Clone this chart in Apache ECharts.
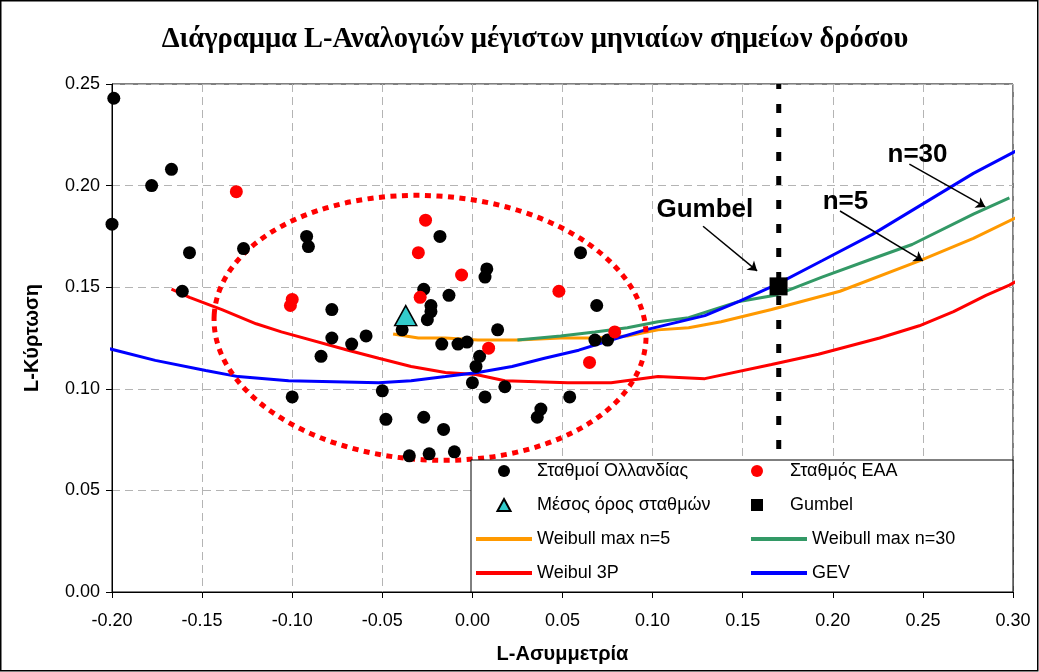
<!DOCTYPE html>
<html><head><meta charset="utf-8">
<script src="https://cdn.jsdelivr.net/npm/echarts@6/dist/echarts.min.js"></script>
<style>html,body{margin:0;padding:0;background:#fff}#c{width:1039px;height:672px}</style>
</head><body><div id="c"></div>
<script>
const titleText = 'Διάγραμμα L-Αναλογιών μέγιστων μηνιαίων σημείων δρόσου';
const xName = 'L-Ασυμμετρία';
const yName = 'L-Κύρτωση';
const xRange = [-0.20, 0.30];
const yRange = [0.00, 0.25];
const tickStep = 0.05;

const netherlandsStations = [
  [-0.199,0.243],[-0.200,0.181],[-0.178,0.200],[-0.167,0.208],[-0.157,0.167],[-0.161,0.148],[-0.127,0.169],
  [-0.100,0.096],[-0.084,0.116],
  [-0.092,0.175],[-0.091,0.170],[-0.078,0.139],[-0.078,0.125],[-0.067,0.122],[-0.059,0.126],
  [-0.018,0.175],[-0.027,0.149],[-0.013,0.146],[-0.023,0.141],[-0.023,0.138],[-0.025,0.134],[-0.039,0.129],
  [-0.017,0.122],[-0.008,0.122],[-0.003,0.123],
  [0.060,0.167],[0.069,0.141],[0.007,0.155],[0.008,0.159],[0.014,0.129],[0.004,0.116],[0.002,0.111],
  [0.000,0.103],[0.018,0.101],[0.007,0.096],
  [0.068,0.124],[0.075,0.124],[0.054,0.096],[0.038,0.090],[0.036,0.086],
  [-0.050,0.099],[-0.048,0.085],[-0.027,0.086],[-0.016,0.080],[-0.035,0.067],[-0.024,0.068],[-0.010,0.069]
];
const hnmsStation = [
  [-0.131,0.197],[-0.100,0.144],[-0.101,0.141],[-0.026,0.183],[-0.030,0.167],[-0.006,0.156],
  [-0.029,0.145],[0.048,0.148],[0.009,0.120],[0.079,0.128],[0.065,0.113]
];
const stationMean = [[-0.037,0.136]];
const gumbelPoint = [[0.1699,0.1504]];
const gumbelLine = [[0.17,0.25],[0.17,0.0]];

const weibullMax5 = [
  [-0.044,0.127],[-0.030,0.125],[-0.015,0.125],[0.003,0.124],[0.025,0.124],[0.049,0.125],[0.068,0.125],
  [0.086,0.126],[0.103,0.129],[0.120,0.130],[0.138,0.133],[0.166,0.139],[0.204,0.148],[0.248,0.163],
  [0.278,0.174],[0.308,0.187]
];
const weibullMax30 = [
  [0.025,0.124],[0.049,0.126],[0.068,0.128],[0.086,0.130],[0.103,0.133],[0.120,0.135],[0.148,0.143],
  [0.168,0.146],[0.194,0.155],[0.222,0.164],[0.244,0.171],[0.278,0.186],[0.298,0.194]
];
const weibull3P = [
  [-0.167,0.149],[-0.157,0.145],[-0.139,0.139],[-0.120,0.132],[-0.106,0.128],[-0.069,0.119],[-0.052,0.115],
  [-0.034,0.111],[-0.015,0.108],[0.002,0.107],[0.018,0.104],[0.053,0.103],[0.077,0.103],[0.103,0.106],
  [0.129,0.105],[0.166,0.112],[0.192,0.117],[0.226,0.125],[0.248,0.131],[0.267,0.138],[0.285,0.146],
  [0.298,0.151],[0.308,0.156]
];
const gev = [
  [-0.207,0.121],[-0.176,0.114],[-0.148,0.109],[-0.130,0.106],[-0.102,0.104],[-0.052,0.103],[-0.034,0.104],
  [-0.015,0.106],[0.003,0.108],[0.022,0.111],[0.040,0.115],[0.059,0.119],[0.077,0.124],[0.096,0.129],
  [0.129,0.136],[0.148,0.143],[0.168,0.151],[0.194,0.163],[0.222,0.176],[0.250,0.191],[0.278,0.206],
  [0.308,0.220]
];

// dotted ellipse around the station cloud: centre, semi-axes (data units), tilt (radians)
const ellipseCentre = [-0.0235, 0.130];
const ellipseRadii = [0.1200, 0.0650];
const ellipseTilt = -0.06;

const annotationTexts = [
  {name:'Gumbel', value:[0.129,0.188]},
  {name:'n=5', value:[0.207,0.192]},
  {name:'n=30', value:[0.247,0.215]}
];
const annotationArrows = [
  [[0.128,0.180],[0.158,0.158]],
  [[0.204,0.1875],[0.250,0.163]],
  [[0.2425,0.2106],[0.2846,0.1895]]
];

const names = ['Σταθμοί Ολλανδίας','Σταθμός ΕΑΑ','Μέσος όρος σταθμών','Gumbel',
               'Weibull max n=5','Weibull max n=30','Weibul 3P','GEV'];
const lineIcon = 'path://M0,0H56V4H0Z';
const triIcon = 'path://M6,0L12,11L0,11Z';
const sqIcon = 'path://M0,0H10V10H0Z';
const legendIcons = ['circle','circle',triIcon,sqIcon,lineIcon,lineIcon,lineIcon,lineIcon];

const FONT = 'Liberation Sans';
const chart = echarts.init(document.getElementById('c'));

function lineSeries(name, data, color) {
  return {name, type:'line', data, symbol:'none', showSymbol:false, clip:false, z:3,
    lineStyle:{color, width:3}, itemStyle:{color}, smooth:false};
}

chart.setOption({
  animation:false,
  backgroundColor:'#fff',
  title:{text:titleText, left:535, textAlign:'center', top:20, padding:[5,0,5,0],
    textStyle:{fontFamily:'Liberation Serif', fontWeight:'bold', fontSize:28.5, color:'#000'}},
  grid:{left:112, right:26, top:84, bottom:80, show:true, borderColor:'#000', borderWidth:1},
  xAxis:{type:'value', min:xRange[0], max:xRange[1], interval:tickStep,
    name:xName, nameLocation:'middle', nameGap:52,
    nameTextStyle:{fontFamily:FONT, fontWeight:'bold', fontSize:20, color:'#000'},
    axisLine:{onZero:false, lineStyle:{color:'#000', width:1}},
    axisTick:{show:true, length:6, lineStyle:{color:'#000'}},
    axisLabel:{fontFamily:FONT, fontSize:18, color:'#000', margin:20, formatter:v=>v.toFixed(2)},
    splitLine:{show:true, lineStyle:{color:'#b4b4b4', type:[8,5], width:1}}},
  yAxis:{type:'value', min:yRange[0], max:yRange[1], interval:tickStep,
    name:yName, nameLocation:'middle', nameGap:70,
    nameTextStyle:{fontFamily:FONT, fontWeight:'bold', fontSize:20, color:'#000'},
    axisLine:{show:true, onZero:false, lineStyle:{color:'#000', width:1}},
    axisTick:{show:true, length:6, lineStyle:{color:'#000'}},
    axisLabel:{fontFamily:FONT, fontSize:18, color:'#000', margin:12, formatter:v=>v.toFixed(2)},
    splitLine:{show:true, lineStyle:{color:'#b4b4b4', type:[8,5], width:1}}},
  legend:{data:names.map((n,i)=>({name:n, icon:legendIcons[i]})), left:471, top:460, width:545,
    orient:'horizontal', symbolKeepAspect:true,
    itemWidth:56, itemHeight:12, itemGap:16, padding:[2,3,10,5],
    backgroundColor:'#fff', borderColor:'#000', borderWidth:1, selectedMode:false, z:20,
    textStyle:{fontFamily:FONT, fontSize:18, color:'#000', width:198, lineHeight:15}},
  series:[
    lineSeries('Weibull max n=5', weibullMax5, '#FF9900'),
    lineSeries('Weibull max n=30', weibullMax30, '#339966'),
    lineSeries('Weibul 3P', weibull3P, '#FF0000'),
    lineSeries('GEV', gev, '#0000FF'),
    {name:'gumbelLine', type:'line', data:gumbelLine, symbol:'none', clip:false, z:4,
      lineStyle:{color:'#000', width:5, type:[9,15], dashOffset:4, cap:'butt'}},
    {name:'ellipse', type:'custom', silent:true, z:4, clip:false,
      data:[[ellipseCentre[0], ellipseCentre[1], ellipseRadii[0], ellipseRadii[1]]],
      renderItem:(params, api)=>{
        const c = api.coord([api.value(0), api.value(1)]);
        const s = api.size([api.value(2), api.value(3)]);
        return {type:'ellipse', x:c[0], y:c[1], rotation:ellipseTilt,
          shape:{cx:0, cy:0, rx:s[0], ry:s[1]},
          style:{fill:null, stroke:'#FF0000', lineWidth:5, lineDash:[6,5.5]}};
      }},
    {name:'Σταθμοί Ολλανδίας', type:'scatter', data:netherlandsStations, symbol:'circle', symbolSize:13, z:5,
      itemStyle:{color:'#000', opacity:1}},
    {name:'Σταθμός ΕΑΑ', type:'scatter', data:hnmsStation, symbol:'circle', symbolSize:13, z:5,
      itemStyle:{color:'#FF0000', opacity:1}},
    {name:'Μέσος όρος σταθμών', type:'scatter', data:stationMean, symbol:'triangle', symbolSize:[22,20], z:6,
      itemStyle:{color:'#33CCCC', borderColor:'#000', borderWidth:1.5, opacity:1}},
    {name:'Gumbel', type:'scatter', data:gumbelPoint, symbol:'rect', symbolSize:18, z:6,
      itemStyle:{color:'#000', opacity:1}},
    {name:'arrows', type:'lines', coordinateSystem:'cartesian2d', z:6, silent:true,
      data:annotationArrows.map(c=>({coords:c})),
      symbol:['none','arrow'], symbolSize:9,
      lineStyle:{color:'#000', width:1.5, opacity:1}}
  ],
  graphic:[{type:'rect', x:0.75, y:0.75, shape:{width:1037, height:670},
    style:{fill:null, stroke:'#000', lineWidth:1.5}, z:100, silent:true}]
});

// annotation texts placed through the chart's own coordinate conversion
const textEls = annotationTexts.map((t,i)=>{
  const p = chart.convertToPixel({gridIndex:0}, t.value);
  return {type:'text', id:'ann'+i, x:p[0], y:p[1], z:50, silent:true,
    style:{text:t.name, fill:'#000', font:'bold 26px "Liberation Sans"', align:'center', verticalAlign:'middle'}};
});
chart.setOption({graphic:textEls});
</script></body></html>
